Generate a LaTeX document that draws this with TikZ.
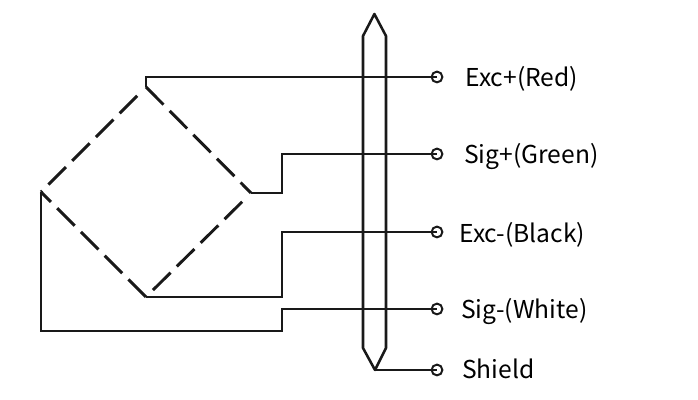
\documentclass[tikz,border=0pt]{standalone}
\usepackage{fontspec}
\setmainfont{Noto Sans CJK SC}
\tikzset{
    wire/.style={line width=1.8pt, black!90},
    arm/.style={line width=2.1pt, black!90, dash pattern=on 0.62cm off 0.22cm},
    term/.style={circle, draw, line width=1.4pt, black!90, inner sep=0pt, minimum size=0.27cm},
    lbl/.style={anchor=west, inner sep=0pt, font=\fontsize{17.5pt}{20pt}\selectfont, black}
}
\begin{document}
\begin{tikzpicture}
\useasboundingbox (0,0) rectangle (17.45,10);
% bridge corners
\coordinate (T) at (3.65,7.825);
\coordinate (R) at (6.275,5.175);
\coordinate (B) at (3.65,2.575);
\coordinate (L) at (1.025,5.2);

\draw[arm, dash phase=0.62cm, shorten <=0.09cm] (T) -- (L);
\draw[arm] (T) -- (R);
\draw[arm, dash phase=0.62cm, shorten <=0.09cm] (R) -- (B);
\draw[arm] (B) -- (L);

% terminals
\node[term] (E1) at (10.925,8.075) {};
\node[term] (S1) at (10.925,6.15) {};
\node[term] (E2) at (10.925,4.2) {};
\node[term] (S2) at (10.925,2.275) {};
\node[term] (H)  at (10.925,0.75) {};

\node[lbl] (E1t) at (11.63,8.02) {Exc+(Red)};
\node[lbl] (S1t) at (11.6,6.09) {Sig+(Green)};
\node[lbl] (E2t) at (11.48,4.14) {Exc-(Black)};
\node[lbl] (S2t) at (11.52,2.22) {Sig-(White)};
\node[lbl] (Ht)  at (11.55,0.77) {Shield};

% sheath
\coordinate (Sa) at (9.36,9.65);
\coordinate (Sb) at (9.65,9.1);
\coordinate (Sc) at (9.65,1.3);
\coordinate (Sd) at (9.375,0.75);
\coordinate (Se) at (9.075,1.3);
\coordinate (Sf) at (9.075,9.1);
\draw[wire, line join=round] (Sa) -- (Sb) -- (Sc) -- (Sd) -- (Se) -- (Sf) -- cycle;

% wires
\draw[wire] (T) -- (T |- E1) -- (E1.center);
\draw[wire] (R) -- (7.05,5.175) -- (7.05,6.15) -- (S1.center);
\draw[wire] (B) -- (7.05,2.575) -- (7.05,4.2) -- (E2.center);
\draw[wire] (L) -- (1.025,1.725) -- (7.05,1.725) -- (7.05,2.275) -- (S2.center);
\draw[wire] (Sd) -- (H.center);
\end{tikzpicture}
\end{document}
